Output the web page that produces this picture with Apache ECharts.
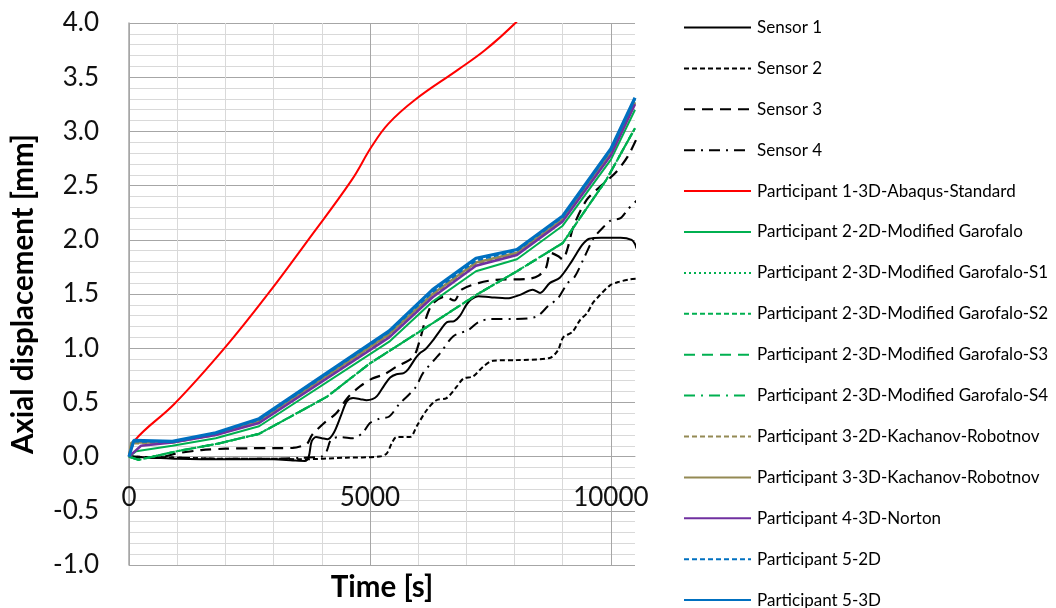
<!DOCTYPE html>
<html>
<head>
<meta charset="utf-8">
<script src="https://cdn.jsdelivr.net/npm/echarts@6/dist/echarts.min.js"></script>
<style>
html,body{margin:0;padding:0;background:#fff;}
#chart{width:1056px;height:608px;}
</style>
</head>
<body>
<div id="chart"></div>
<script>
// ---- data: [time s, axial displacement mm] ----
const seriesNames = [
  'Sensor 1','Sensor 2','Sensor 3','Sensor 4',
  'Participant 1-3D-Abaqus-Standard',
  'Participant 2-2D-Modified Garofalo',
  'Participant 2-3D-Modified Garofalo-S1',
  'Participant 2-3D-Modified Garofalo-S2',
  'Participant 2-3D-Modified Garofalo-S3',
  'Participant 2-3D-Modified Garofalo-S4',
  'Participant 3-2D-Kachanov-Robotnov',
  'Participant 3-3D-Kachanov-Robotnov',
  'Participant 4-3D-Norton',
  'Participant 5-2D',
  'Participant 5-3D'
];
const yTicks = [-1.0,-0.5,0.0,0.5,1.0,1.5,2.0,2.5,3.0,3.5,4.0];
const xTicks = [0,5000,10000];

const sensor1 = [[0,0],[500,-0.01],[1000,-0.02],[2000,-0.025],[3000,-0.025],[3400,-0.035],[3650,-0.04],[3730,0.0],[3790,0.14],[3880,0.18],[4000,0.17],[4120,0.16],[4250,0.22],[4400,0.38],[4520,0.51],[4650,0.54],[4800,0.53],[4930,0.52],[5050,0.53],[5150,0.56],[5300,0.66],[5420,0.73],[5550,0.76],[5700,0.77],[5800,0.81],[5950,0.91],[6050,0.96],[6150,0.99],[6320,1.08],[6450,1.16],[6600,1.24],[6750,1.25],[6870,1.30],[7000,1.40],[7100,1.45],[7250,1.48],[7500,1.47],[7850,1.46],[8100,1.49],[8380,1.54],[8530,1.51],[8730,1.60],[8940,1.65],[9200,1.81],[9400,1.95],[9550,2.01],[9800,2.02],[10200,2.02],[10430,2.0],[10500,1.96],[10530,1.92]];
const sensor2 = [[0,0],[1000,-0.01],[2000,-0.02],[3000,-0.02],[3550,-0.025],[4500,-0.01],[5200,0.0],[5350,0.03],[5450,0.12],[5550,0.18],[5830,0.18],[5970,0.28],[6180,0.43],[6380,0.52],[6590,0.54],[6800,0.645],[6940,0.72],[7140,0.74],[7350,0.83],[7560,0.885],[8040,0.89],[8730,0.91],[8900,0.98],[9010,1.1],[9200,1.15],[9360,1.26],[9500,1.32],[9630,1.42],[9740,1.475],[9980,1.58],[10150,1.61],[10400,1.635],[10530,1.64]];
const sensor3 = [[0,0],[300,-0.01],[600,-0.01],[1000,0.03],[1500,0.06],[2000,0.073],[2500,0.077],[3000,0.078],[3400,0.08],[3600,0.10],[3700,0.12],[3800,0.2],[4050,0.31],[4300,0.40],[4550,0.55],[4800,0.65],[5050,0.72],[5300,0.76],[5550,0.83],[5900,0.92],[6050,1.1],[6150,1.26],[6300,1.41],[6550,1.475],[6750,1.44],[6900,1.54],[7250,1.60],[7600,1.63],[8300,1.64],[8500,1.67],[8650,1.74],[8750,1.88],[8900,1.85],[9000,1.82],[9100,1.92],[9220,2.12],[9500,2.37],[9800,2.5],[10100,2.62],[10350,2.77],[10530,2.93]];
const sensor4 = [[0,0],[1000,-0.01],[2000,-0.02],[3000,-0.02],[3600,-0.01],[4000,0.0],[4100,0.05],[4200,0.16],[4400,0.18],[4650,0.17],[4850,0.22],[5000,0.31],[5200,0.35],[5400,0.37],[5600,0.48],[5950,0.64],[6100,0.77],[6450,0.95],[6730,1.11],[7050,1.17],[7250,1.24],[7500,1.27],[8000,1.27],[8450,1.29],[8700,1.39],[8900,1.46],[9100,1.60],[9250,1.66],[9450,1.84],[9650,2.02],[9850,2.12],[10000,2.18],[10200,2.2],[10350,2.28],[10530,2.36]];
const p1Abaqus = [[0,0],[120,0.15],[950,0.49],[2000,1.01],[2900,1.51],[3720,2.0],[4620,2.55],[5035,2.86],[5380,3.07],[5930,3.29],[6830,3.57],[7390,3.75],[8040,4.01],[8150,4.08]];
const p2Garofalo2D = [[0,0],[150,0.05],[900,0.1],[1800,0.17],[2700,0.28],[5400,1.06],[6300,1.43],[7200,1.71],[8050,1.82],[9000,2.13],[10000,2.74],[10500,3.2]];
const p2GarofaloS1 = [[0,0],[200,-0.03],[1000,0.05],[1850,0.12],[2700,0.21],[4100,0.55],[5000,0.86],[6300,1.23],[7200,1.49],[8050,1.71],[9000,1.97],[9900,2.55],[10500,3.03]];
const p2GarofaloS2 = [[0,0],[200,-0.03],[1000,0.05],[1850,0.12],[2700,0.21],[4100,0.55],[5000,0.86],[6300,1.23],[7200,1.49],[8050,1.71],[9000,1.97],[9900,2.55],[10500,3.03]];
const p2GarofaloS3 = [[0,0],[200,-0.03],[1000,0.05],[1850,0.12],[2700,0.21],[4100,0.55],[5000,0.86],[6300,1.23],[7200,1.49],[8050,1.71],[9000,1.97],[9900,2.55],[10500,3.03]];
const p2GarofaloS4 = [[0,0],[200,-0.03],[1000,0.05],[1850,0.12],[2700,0.21],[4100,0.55],[5000,0.86],[6300,1.23],[7200,1.49],[8050,1.71],[9000,1.97],[9900,2.55],[10500,3.03]];
const p3Kachanov2D = [[0,0],[50,0.12],[900,0.13],[1800,0.2],[2700,0.32],[5400,1.12],[6300,1.49],[7200,1.78],[8050,1.87],[9000,2.18],[10000,2.79],[10500,3.26]];
const p3Kachanov3D = [[0,0],[50,0.13],[900,0.13],[1800,0.21],[2700,0.33],[5400,1.13],[6300,1.5],[7200,1.79],[8050,1.88],[9000,2.19],[10000,2.8],[10500,3.27]];
const p4Norton = [[0,0],[250,0.1],[900,0.13],[1800,0.2],[2700,0.31],[5400,1.10],[6300,1.47],[7200,1.76],[8050,1.86],[9000,2.17],[10000,2.78],[10500,3.25]];
const p5TwoD = [[0,0],[100,0.14],[900,0.135],[1800,0.215],[2700,0.34],[5400,1.15],[6300,1.52],[7200,1.81],[8050,1.9],[9000,2.21],[10000,2.83],[10500,3.3]];
const p5ThreeD = [[0,0],[100,0.15],[900,0.14],[1800,0.22],[2700,0.35],[5400,1.16],[6300,1.54],[7200,1.83],[8050,1.91],[9000,2.22],[10000,2.84],[10500,3.31]];

const seriesData = [sensor1,sensor2,sensor3,sensor4,p1Abaqus,p2Garofalo2D,p2GarofaloS1,p2GarofaloS2,p2GarofaloS3,p2GarofaloS4,p3Kachanov2D,p3Kachanov3D,p4Norton,p5TwoD,p5ThreeD];

// ---- styles ----
const FONT = 'Lato';
const MAJOR = '#a6a6a6', MINOR = '#d9d9d9';
const GRID = {left:129, top:23, width:506, height:542};
const styles = [
  {color:'#000000', width:2, type:'solid', smooth:0.3},
  {color:'#000000', width:2, type:[5,3], smooth:0.3},
  {color:'#000000', width:2.2, type:[11,7], smooth:0.3},
  {color:'#000000', width:2, type:[11,6,2,6], smooth:0.3},
  {color:'#ff0000', width:2, type:'solid', smooth:0.4},
  {color:'#00b050', width:2, type:'solid', smooth:false},
  {color:'#00b050', width:2, type:[2,3], smooth:false},
  {color:'#00b050', width:2, type:[5,3], smooth:false},
  {color:'#00b050', width:2.2, type:[11,7], smooth:false},
  {color:'#00b050', width:2, type:[11,6,2,6], smooth:false},
  {color:'#948a54', width:2.2, type:[5,3], smooth:false},
  {color:'#948a54', width:2.5, type:'solid', smooth:false},
  {color:'#7030a0', width:2.5, type:'solid', smooth:false},
  {color:'#0070c0', width:2.2, type:[5,3], smooth:false},
  {color:'#0070c0', width:3.2, type:'solid', smooth:false}
];

const chart = echarts.init(document.getElementById('chart'), null, {renderer:'canvas'});
const series = seriesNames.map((n,i)=>({
  name:n, type:'line', data:seriesData[i],
  showSymbol:false, symbol:'none', smooth:styles[i].smooth, animation:false,
  lineStyle:{color:styles[i].color, width:styles[i].width, type:styles[i].type},
  itemStyle:{color:styles[i].color},
  z: 2 + i
}));

chart.setOption({
  backgroundColor:'#ffffff',
  animation:false,
  grid:Object.assign({containLabel:false, outerBoundsMode:'none'}, GRID),
  legend:{
    orient:'vertical', left:683, top:19, height:640, padding:0,
    itemWidth:67, itemHeight:16, itemGap:23.9,
    itemStyle:{opacity:0, borderWidth:0},
    textStyle:{fontFamily:FONT, fontSize:17, lineHeight:16, color:'#000', padding:[0,0,0,1]},
    data:seriesNames
  },
  xAxis:{
    type:'value', min:0, max:10500, interval:1000, position:'bottom', offset:0,
    axisLine:{show:true, onZero:false, lineStyle:{color:MAJOR, width:1}},
    axisTick:{show:false},
    axisLabel:{fontFamily:FONT, fontSize:26, color:'#111', margin:28,
      formatter:(v)=> xTicks.indexOf(v) >= 0 ? String(v) : ''},
    splitLine:{show:true, showMaxLine:false, lineStyle:{color:[MAJOR,MINOR,MINOR,MINOR,MINOR], width:1}},
    name:'Time [s]', nameLocation:'middle', nameGap:116,
    nameTextStyle:{fontFamily:FONT, fontSize:29.5, fontWeight:'bold', color:'#000'}
  },
  yAxis:{
    type:'value', min:-1, max:4, interval:0.5,
    axisLine:{show:true, onZero:false, lineStyle:{color:MAJOR, width:1.5}},
    axisTick:{show:false},
    axisLabel:{fontFamily:FONT, fontSize:26, color:'#111', margin:30,
      formatter:(v)=> { const t = yTicks.find(k=>Math.abs(k-v)<1e-9); return t===undefined ? '' : t.toFixed(1); }},
    splitLine:{show:true, lineStyle:{color:MAJOR, width:1}},
    minorTick:{show:false, splitNumber:5},
    minorSplitLine:{show:true, lineStyle:{color:MINOR, width:1}},
    name:'Axial displacement [mm]', nameLocation:'middle', nameGap:91, nameRotate:90,
    nameTextStyle:{fontFamily:FONT, fontSize:29.5, fontWeight:'bold', color:'#000'}
  },
  series:series
});

// Excel-style "axis crosses at 0": move the x axis to the pixel of y = 0 on the library's y scale
const yZeroPx = chart.convertToPixel({yAxisIndex:0}, 0);
const xAxisOffset = yZeroPx - (GRID.top + GRID.height);
chart.setOption({xAxis:{offset:xAxisOffset}});
</script>
</body>
</html>
